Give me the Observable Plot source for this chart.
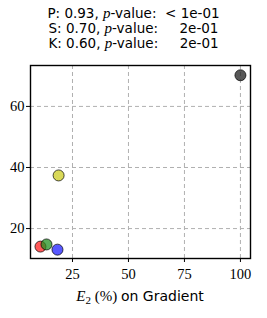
<!DOCTYPE html>
<html><head><meta charset="utf-8">
<script src="https://cdn.jsdelivr.net/npm/d3@7"></script>
<script src="https://cdn.jsdelivr.net/npm/@observablehq/plot@0.6"></script>
<style>
body{margin:0;background:#fff;width:267px;height:318px;overflow:hidden}
#title{font-family:"DejaVu Sans",sans-serif;font-size:13.5px;line-height:15px;text-align:center;height:55px;padding-top:6px;box-sizing:border-box;color:#000;white-space:pre}
#title i{font-family:"Liberation Serif",serif;font-size:15px}
</style></head><body>
<div id="title"></div>
<div id="chart"></div>
<script>
const names = ["red","green","blue","yellow","gray"];
const xValues = [10.7, 13.4, 18.3, 18.8, 100];
const yValues = [14.1, 14.8, 13.1, 37.4, 70.2];
const colors = ["#ff2020","#209020","#2020ff","#cccc20","#202020"];
const titleLines = [
  ["P", "0.93", "< 1e-01"],
  ["S", "0.70", "\u00a0\u00a0\u00a02e-01"],
  ["K", "0.60", "\u00a0\u00a0\u00a02e-01"]
];
const xTicks = [25, 50, 75, 100];
const yTicks = [20, 40, 60];

document.getElementById("title").innerHTML = titleLines
  .map(([k, v, p]) => `<div>${k}: ${v}, <i>p</i>-value:  ${p}</div>`).join("");

const data = names.map((n, i) => ({name: n, x: xValues[i], y: yValues[i], c: colors[i]}));

const serif = "Liberation Serif, serif";
const chart = Plot.plot({
  width: 267, height: 263,
  marginLeft: 30, marginRight: 17, marginTop: 10, marginBottom: 60,
  style: {fontFamily: serif, fontSize: "14px", background: "#fff", color: "#000"},
  x: {domain: [6.25, 104.5], label: null},
  y: {domain: [10.2, 73.4], label: null},
  marks: [
    Plot.gridX(xTicks, {stroke: "#b0b0b0", strokeOpacity: 1, strokeDasharray: "4,3"}),
    Plot.gridY(yTicks, {stroke: "#b0b0b0", strokeOpacity: 1, strokeDasharray: "4,3"}),
    Plot.axisX(xTicks, {tickSize: 4, tickPadding: 6, fontSize: 14.5, fontFamily: serif, label: null}),
    Plot.axisY(yTicks, {tickSize: 4, tickPadding: 2, fontSize: 14.5, fontFamily: serif, label: null}),
    Plot.dot(data, {x: "x", y: "y", r: 5.5, fill: "c", fillOpacity: 0.75, stroke: "#000", strokeOpacity: 0.7, strokeWidth: 1}),
    Plot.frame({stroke: "#000", strokeWidth: 1.4})
  ]
});
document.getElementById("chart").appendChild(chart);

const svg = d3.select(chart);
const lab = svg.append("text")
  .attr("x", 30 + (267 - 30 - 17) / 2).attr("y", 203 + 43)
  .attr("text-anchor", "middle")
  .style("font-size", "15px");
lab.append("tspan").attr("font-family", serif).attr("font-style", "italic").text("E");
lab.append("tspan").attr("font-family", serif).attr("font-size", "11px").attr("dy", 3).text("2");
lab.append("tspan").attr("font-family", serif).attr("dy", -3).text(" (%) ");
lab.append("tspan").attr("font-family", "DejaVu Sans, sans-serif").attr("font-size", "14px").text("on Gradient");
</script>
</body></html>
